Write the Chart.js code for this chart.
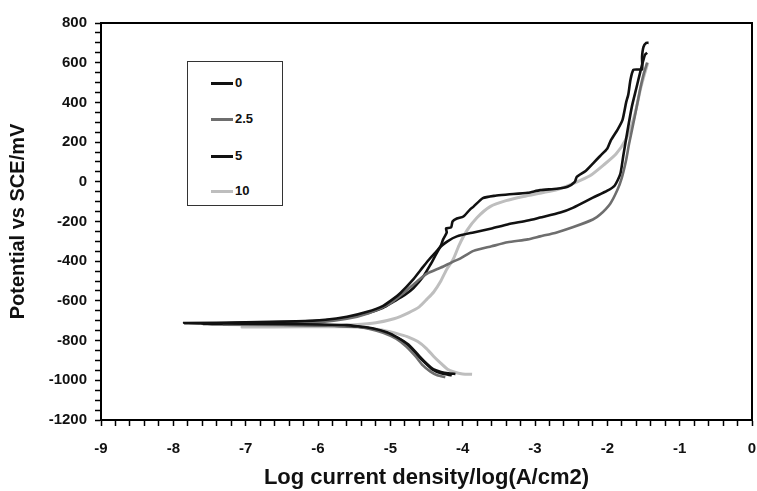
<!DOCTYPE html>
<html lang="en">

<head>
    <meta charset="UTF-8">
    <title>Potential vs log current density</title>
    <style>
        body {
            margin: 0;
            background: #fff;
        }

        #grafik-container {
            position: relative;
            width: 757px;
            height: 491px;
        }

        #legenda {
            position: absolute;
            left: 187px;
            top: 61px;
            width: 94px;
            height: 143px;
            border: 1px solid #333;
            background: #fff;
            font-family: "Liberation Sans", Arial, sans-serif;
            font-weight: bold;
            font-size: 13px;
            color: #111;
        }

        #legenda .item {
            position: absolute;
            left: 23px;
            height: 14px;
            line-height: 14px;
        }

        #legenda .garis {
            display: inline-block;
            width: 22px;
            height: 3px;
            vertical-align: middle;
            margin-right: 2px;
        }
    </style>
</head>

<body>
    <div id="grafik-container">
        <canvas id="grafikPolarisasi" width="757" height="491"></canvas>
        <div id="legenda"></div>
    </div>

    <script src="https://cdn.jsdelivr.net/npm/chart.js@4.4.1/dist/chart.umd.min.js"></script>
    <script>
        // data: [log i, E (mV)]
        var seri = ['0', '2.5', '5', '10'];
        var warna = ['#111111', '#6e6e6e', '#111111', '#bebebe'];

        var kurva0 = [
            [-4.10, -968], [-4.20, -965], [-4.30, -958], [-4.40, -945], [-4.50, -915], [-4.62, -870],
            [-4.75, -820], [-4.90, -785], [-5.05, -758], [-5.25, -738], [-5.45, -728], [-5.60, -722],
            [-6.20, -718], [-7.00, -715], [-7.85, -712],
            [-7.00, -708], [-6.30, -703], [-5.90, -695], [-5.60, -680], [-5.32, -655], [-5.10, -625],
            [-4.96, -590], [-4.86, -560], [-4.68, -490], [-4.55, -430], [-4.45, -385], [-4.35, -345],
            [-4.30, -320], [-4.27, -290], [-4.22, -255], [-4.23, -235], [-4.16, -230], [-4.14, -200],
            [-4.08, -185], [-3.99, -175], [-3.90, -140], [-3.85, -125], [-3.72, -82], [-3.55, -70],
            [-3.38, -64], [-3.10, -55], [-2.93, -42], [-2.70, -35], [-2.55, -25], [-2.45, 0],
            [-2.42, 26], [-2.30, 55], [-2.20, 92], [-2.10, 130], [-2.00, 168], [-1.95, 210],
            [-1.86, 262], [-1.79, 312], [-1.74, 400], [-1.71, 440], [-1.68, 514], [-1.64, 564],
            [-1.58, 566], [-1.52, 566], [-1.52, 629], [-1.50, 680], [-1.46, 700], [-1.43, 700]
        ];

        var kurva25 = [
            [-4.24, -984], [-4.35, -975], [-4.45, -955], [-4.55, -925], [-4.65, -880], [-4.78, -830],
            [-4.92, -790], [-5.10, -760], [-5.30, -740], [-5.50, -728], [-6.20, -722], [-7.30, -720],
            [-6.60, -714], [-6.00, -708], [-5.60, -690], [-5.30, -662], [-5.00, -612], [-4.80, -555],
            [-4.60, -492], [-4.49, -462], [-4.30, -432], [-4.13, -402], [-4.03, -386], [-3.85, -348],
            [-3.60, -325], [-3.38, -305], [-3.10, -290], [-2.93, -275], [-2.70, -255], [-2.47, -228],
            [-2.20, -190], [-2.10, -165], [-1.96, -110], [-1.86, -40], [-1.80, 20], [-1.74, 110],
            [-1.70, 190], [-1.62, 330], [-1.55, 460], [-1.50, 540], [-1.45, 600]
        ];

        var kurva5 = [
            [-4.15, -975], [-4.30, -965], [-4.42, -945], [-4.52, -912], [-4.62, -875], [-4.74, -828],
            [-4.88, -790], [-5.05, -760], [-5.25, -740], [-5.45, -730], [-6.00, -722], [-7.00, -718],
            [-7.60, -716],
            [-7.00, -710], [-6.40, -706], [-5.90, -698], [-5.60, -685], [-5.32, -662], [-5.10, -635],
            [-4.96, -605], [-4.80, -570], [-4.68, -535], [-4.55, -480], [-4.45, -420], [-4.31, -330],
            [-4.21, -300], [-4.08, -275], [-3.85, -255], [-3.60, -235], [-3.38, -215], [-3.10, -195],
            [-2.93, -180], [-2.65, -155], [-2.47, -130], [-2.20, -80], [-2.00, -45], [-1.90, -20],
            [-1.82, 40], [-1.78, 130], [-1.72, 260], [-1.66, 380], [-1.60, 470], [-1.54, 560],
            [-1.48, 640], [-1.45, 650]
        ];

        var kurva10 = [
            [-3.87, -970], [-4.00, -968], [-4.12, -958], [-4.21, -944], [-4.30, -915], [-4.40, -880],
            [-4.50, -840], [-4.62, -805], [-4.75, -782], [-4.86, -770], [-5.10, -748], [-5.30, -736],
            [-5.60, -730], [-6.20, -730], [-7.05, -732],
            [-6.30, -728], [-5.80, -725], [-5.50, -720], [-5.20, -710], [-4.95, -690], [-4.75, -660],
            [-4.60, -630], [-4.49, -590], [-4.40, -555], [-4.31, -505], [-4.22, -440], [-4.13, -390],
            [-4.05, -320], [-3.94, -245], [-3.80, -180], [-3.62, -125], [-3.40, -95], [-3.16, -74],
            [-2.90, -55], [-2.69, -39], [-2.45, -5], [-2.24, 30], [-2.05, 85], [-1.88, 140],
            [-1.75, 210], [-1.66, 290], [-1.60, 370], [-1.54, 470], [-1.48, 550], [-1.44, 600]
        ];

        var semuaKurva = [kurva0, kurva25, kurva5, kurva10];

        var tickX = [-9, -8, -7, -6, -5, -4, -3, -2, -1, 0];
        var tickY = [-1200, -1000, -800, -600, -400, -200, 0, 200, 400, 600, 800];

        var fontLabel = { family: '"Liberation Sans", Arial, sans-serif', weight: 'bold', size: 15 };
        var fontJudulX = { family: '"Liberation Sans", Arial, sans-serif', weight: 'bold', size: 22 };
        var fontJudulY = { family: '"Liberation Sans", Arial, sans-serif', weight: 'bold', size: 20 };

        function labelBulat(daftar) {
            return function (value) {
                for (var i = 0; i < daftar.length; i++) {
                    if (Math.abs(value - daftar[i]) < 1e-6) return String(daftar[i]);
                }
                return '';
            };
        }

        var datasets = semuaKurva.map(function (kurva, i) {
            return {
                label: seri[i],
                data: kurva.map(function (p) { return { x: p[0], y: p[1] }; }),
                borderColor: warna[i],
                backgroundColor: warna[i],
                borderWidth: i === 3 ? 3 : 2.6,
                showLine: true,
                pointRadius: 0,
                tension: 0.2
            };
        });

        // kotak di sekeliling area plot
        var kotakPlot = {
            id: 'kotakPlot',
            afterDraw: function (chart) {
                var a = chart.chartArea;
                var c = chart.ctx;
                c.save();
                c.strokeStyle = '#000';
                c.lineWidth = 2;
                c.strokeRect(a.left, a.top, a.right - a.left, a.bottom - a.top);
                c.restore();
            }
        };

        var ctx = document.getElementById('grafikPolarisasi').getContext('2d');

        const grafik = new Chart(ctx, {
            type: 'scatter',
            data: { datasets: datasets },
            plugins: [kotakPlot],
            options: {
                responsive: false,
                animation: false,
                layout: { padding: { left: 0, top: 23, right: 5, bottom: 0 } },
                plugins: {
                    legend: { display: false },
                    tooltip: { enabled: false }
                },
                scales: {
                    x: {
                        type: 'linear',
                        min: -9,
                        max: 0,
                        afterFit: function (scale) {
                            scale.height = 71;
                            // jangan biarkan label menggeser tepi kanan
                            scale.paddingLeft = 0;
                            scale.paddingRight = 0;
                        },
                        ticks: {
                            stepSize: 0.2,
                            autoSkip: false,
                            maxRotation: 0,
                            padding: 14,
                            color: '#111',
                            font: fontLabel,
                            callback: labelBulat(tickX)
                        },
                        grid: { drawOnChartArea: false, tickLength: 6, color: '#000', tickWidth: 1.5 },
                        border: { display: true, color: '#000', width: 2 },
                        title: {
                            display: true,
                            text: 'Log current density/log(A/cm2)',
                            color: '#111',
                            font: fontJudulX,
                            padding: { top: 0, bottom: 0 }
                        }
                    },
                    y: {
                        type: 'linear',
                        min: -1200,
                        max: 800,
                        afterFit: function (scale) { scale.width = 101; },
                        ticks: {
                            stepSize: 50,
                            autoSkip: false,
                            padding: 8,
                            color: '#111',
                            font: fontLabel,
                            callback: labelBulat(tickY)
                        },
                        grid: { drawOnChartArea: false, tickLength: 6, color: '#000', tickWidth: 1.5 },
                        border: { display: true, color: '#000', width: 2 },
                        title: {
                            display: true,
                            text: 'Potential vs SCE/mV',
                            color: '#111',
                            font: fontJudulY,
                            padding: { top: 6, bottom: 0 }
                        }
                    }
                }
            }
        });

        // legenda dibuat sendiri supaya posisinya sama dengan gambar
        var legenda = document.getElementById('legenda');
        var barisY = [14, 50, 87, 122];
        datasets.forEach(function (ds, i) {
            var item = document.createElement('div');
            item.className = 'item';
            item.style.top = barisY[i] + 'px';
            item.innerHTML = '<span class="garis" style="background:' + ds.borderColor + '"></span>' + ds.label;
            legenda.appendChild(item);
        });
    </script>
</body>

</html>
